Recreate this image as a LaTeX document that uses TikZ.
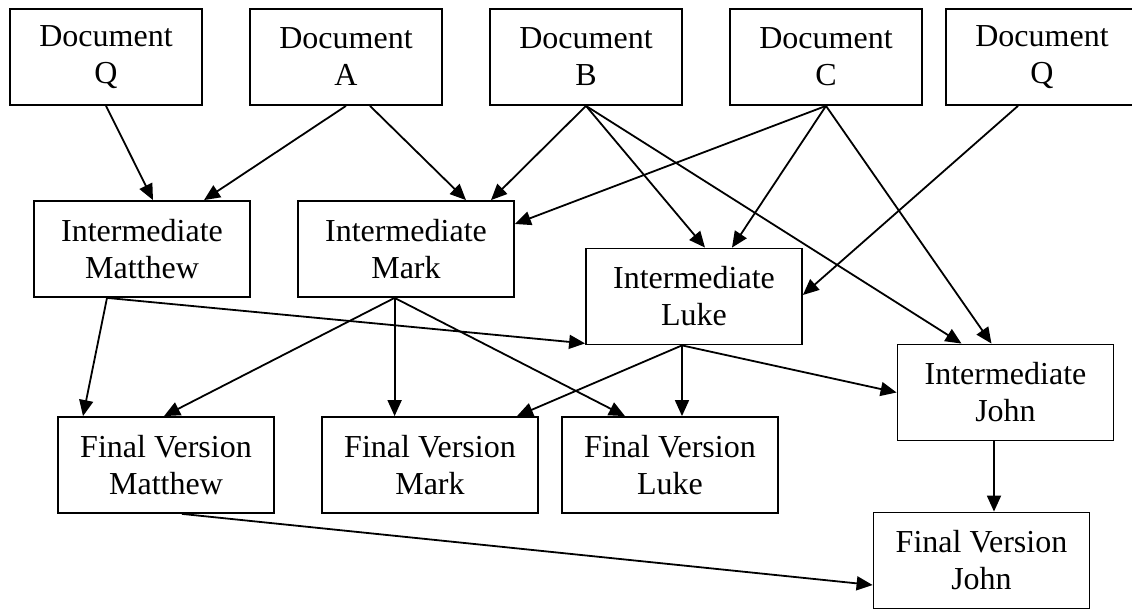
\documentclass[tikz,border=0pt]{standalone}
\usepackage{fontspec}
\setmainfont{Liberation Serif}
\usepackage{tikz}
\usetikzlibrary{arrows.meta,positioning}
\tikzset{%
	doc/.style      = {draw, rectangle, line width=0.9pt, minimum width=96pt, minimum height=48pt, align=center, inner sep=0pt}, % Source document
	block/.style    = {draw, rectangle, line width=0.9pt, minimum width=108pt, minimum height=48pt, align=center, inner sep=0pt}, % Version
	link/.style     = {line width=0.9pt, ->}, % Edge
}

\begin{document}
\begin{tikzpicture}[node distance=120pt,>={Triangle[length=8pt,width=7pt]},font=\fontsize{16}{18.5}\selectfont]
	\useasboundingbox (0,0) rectangle (566pt,-304.5pt);
	\node [doc] (docq) at (53pt,-28.5pt) {Document\\Q};
	\node [doc] (doca) [right of=docq] {Document\\A};
	\node [doc] (docb) [right of=doca] {Document\\B};
	\node [doc] (docc) [right of=docb] {Document\\C};
	\node [doc] (docqq) [right of=docc,node distance=108pt] {Document\\Q};
	\node [block] (imatt) [below of=docq,node distance=96pt,xshift=18pt] {Intermediate\\Matthew};
	\node [block] (imark) [right of=imatt,node distance=132pt] {Intermediate\\Mark};
	\node [block] (iluke) [right of=imark,node distance=144pt,yshift=-23.75pt] {Intermediate\\Luke};
	\node [block] (ijohn) [right of=iluke,node distance=155.75pt,yshift=-48pt] {Intermediate\\John};
	\node [block] (fmatt) [below of=imatt,node distance=108pt,xshift=12pt] {Final Version\\Matthew};
	\node [block] (fmark) [right of=fmatt,node distance=132pt] {Final Version\\Mark};
	\node [block] (fluke) [right of=fmark] {Final Version\\Luke};
	\node [block] (fjohn) [below of=ijohn,node distance=84pt,xshift=-12pt] {Final Version\\John};
	
	% documents to intermediates
	\draw[link] (docq.south) -- ([xshift=5.5pt]imatt.north);
	\draw[link] (doca.south) -- ([xshift=31pt]imatt.north);
	\draw[link] ([xshift=12pt]doca.south) -- ([xshift=30pt]imark.north);
	\draw[link] (docb.south) -- ([xshift=42.5pt]imark.north);
	\draw[link] (docb.south) -- ([xshift=5.5pt]iluke.north);
	\draw[link] (docb.south) -- ([xshift=-22pt]ijohn.north);
	\draw[link] (docc.south) -- ([yshift=12.5pt]imark.east);
	\draw[link] (docc.south) -- ([xshift=19pt]iluke.north);
	\draw[link] (docc.south) -- ([xshift=-7pt]ijohn.north);
	\draw[link] ([xshift=-12pt]docqq.south) -- ([yshift=0.75pt]iluke.east);
	
	% intermediates to finals
	\draw[link] ([xshift=-17.5pt]imatt.south) -- ([xshift=-41.5pt]fmatt.north);
	\draw[link] ([xshift=-17.5pt]imatt.south) -- ([yshift=1pt]iluke.south west);
	\draw[link] ([xshift=-5.7pt]imark.south) -- ([xshift=-1pt]fmatt.north);
	\draw[link] ([xshift=-5.7pt]imark.south) -- ([xshift=-17.7pt]fmark.north);
	\draw[link] ([xshift=-5.7pt]imark.south) -- ([xshift=-22.5pt]fluke.north);
	\draw[link] ([xshift=-6pt]iluke.south) -- ([xshift=43.5pt]fmark.north);
	\draw[link] ([xshift=-6pt]iluke.south) -- ([xshift=6pt]fluke.north);
	\draw[link] ([xshift=-6pt]iluke.south) -- (ijohn.west);
	\draw[link] ([xshift=-5.75pt]ijohn.south) -- ([xshift=6.25pt]fjohn.north);
	\draw[link] ([xshift=8pt]fmatt.south) -- ([yshift=-12.25pt]fjohn.west);
\end{tikzpicture}
\end{document}
